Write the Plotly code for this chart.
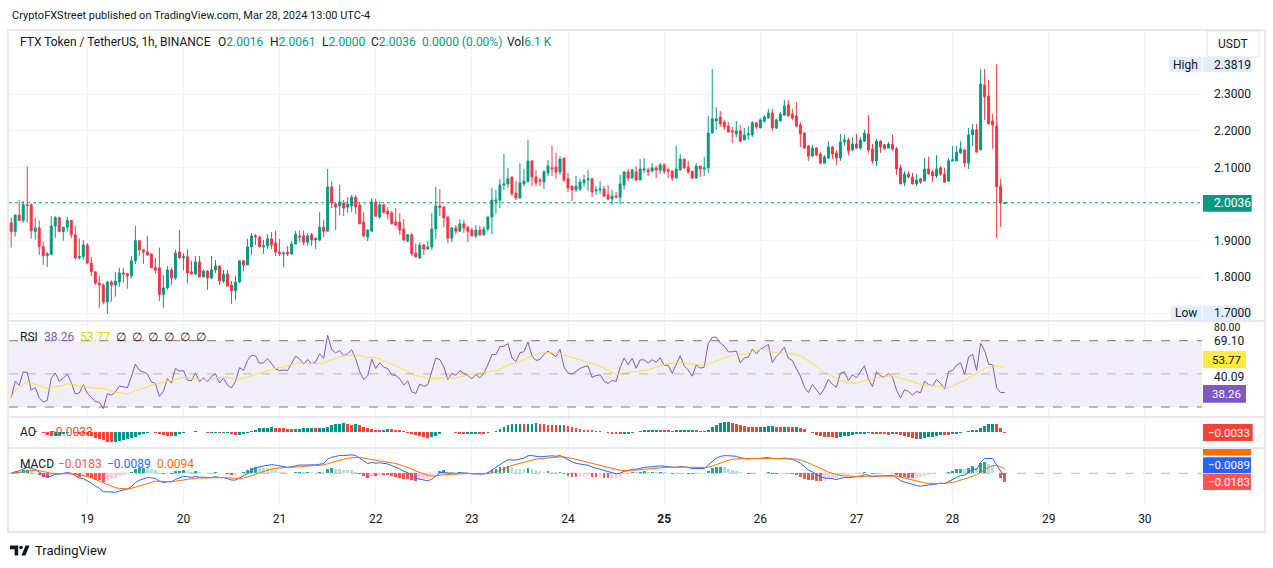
import numpy as np
import pandas as pd
import plotly.graph_objects as go

W, H = 1273, 568
FONT = "Roboto"
TXT = "#131722"
UP, DOWN = "#089981", "#F23645"
GRID = "#F0F3FA"

# ---------------- data (FTT/USDT 1h) ----------------
start_time = "2024-03-18 05:00"
opens = [
    1.949,1.925,1.970,1.955,1.998,1.998,1.925,1.935,1.884,1.859,
    1.862,1.940,1.963,1.925,1.937,1.955,1.916,1.853,1.857,1.888,
    1.839,1.815,1.784,1.779,1.733,1.787,1.779,1.787,1.812,1.810,
    1.804,1.845,1.900,1.875,1.869,1.864,1.826,1.826,1.753,1.771,
    1.820,1.798,1.869,1.853,1.856,1.815,1.809,1.842,1.801,1.817,
    1.798,1.820,1.831,1.790,1.809,1.779,1.763,1.787,1.845,1.834,
    1.883,1.913,1.910,1.883,1.886,1.905,1.894,1.869,1.864,1.869,
    1.864,1.891,1.913,1.913,1.896,1.916,1.902,1.902,1.937,1.926,
    2.047,2.000,1.995,2.003,1.992,1.995,2.019,1.997,1.951,1.910,
    1.926,2.006,1.965,1.998,1.981,1.976,1.951,1.951,1.932,1.899,
    1.916,1.866,1.853,1.888,1.877,1.883,1.932,1.995,1.992,1.965,
    1.907,1.935,1.926,1.946,1.937,1.929,1.913,1.929,1.916,1.932,
    1.965,2.008,2.011,2.052,2.055,2.074,2.030,2.017,2.055,2.061,
    2.118,2.074,2.066,2.061,2.085,2.099,2.101,2.088,2.126,2.069,
    2.049,2.039,2.041,2.058,2.066,2.069,2.036,2.039,2.041,2.025,
    2.014,2.022,2.019,2.052,2.088,2.071,2.088,2.066,2.093,2.093,
    2.090,2.099,2.093,2.107,2.093,2.090,2.071,2.093,2.123,2.101,
    2.090,2.071,2.104,2.096,2.099,2.194,2.227,2.238,2.224,2.213,
    2.200,2.192,2.200,2.175,2.189,2.189,2.222,2.208,2.227,2.235,
    2.249,2.208,2.227,2.243,2.271,2.246,2.241,2.216,2.194,2.159,
    2.131,2.153,2.137,2.112,2.126,2.156,2.140,2.126,2.170,2.175,
    2.148,2.164,2.153,2.172,2.192,2.151,2.118,2.172,2.162,2.153,
    2.164,2.151,2.099,2.058,2.082,2.074,2.055,2.069,2.063,2.096,
    2.088,2.077,2.099,2.082,2.063,2.118,2.118,2.140,2.148,2.112,
    2.189,2.203,2.148,2.325,2.295,2.227,2.213,2.049,2.0016,
]
highs = [
    1.963,1.970,2.011,2.008,2.104,2.002,1.963,1.955,1.897,1.869,
    1.967,1.967,1.963,1.937,1.965,1.955,1.940,1.906,1.902,1.893,
    1.856,1.815,1.803,1.784,1.790,1.792,1.815,1.826,1.826,1.812,
    1.858,1.940,1.900,1.877,1.913,1.864,1.853,1.881,1.806,1.831,
    1.826,1.875,1.929,1.866,1.877,1.845,1.858,1.858,1.820,1.820,
    1.858,1.847,1.831,1.820,1.820,1.790,1.804,1.847,1.847,1.905,
    1.921,1.918,1.913,1.902,1.918,1.924,1.927,1.905,1.872,1.886,
    1.899,1.927,1.929,1.927,1.921,1.921,1.907,1.978,1.957,2.096,
    2.063,2.003,2.052,2.011,2.019,2.025,2.025,2.006,1.978,1.932,
    2.017,2.014,2.008,1.998,1.992,1.981,1.989,1.976,1.959,1.918,
    1.921,1.891,1.896,1.891,1.899,1.976,2.047,2.041,1.995,1.965,
    1.937,1.943,1.959,1.957,1.940,1.935,1.943,1.940,1.940,1.965,
    2.044,2.039,2.069,2.137,2.099,2.074,2.063,2.112,2.096,2.175,
    2.121,2.093,2.071,2.093,2.121,2.159,2.140,2.131,2.126,2.085,
    2.052,2.077,2.069,2.080,2.093,2.071,2.049,2.063,2.049,2.052,
    2.039,2.033,2.080,2.088,2.096,2.096,2.104,2.123,2.126,2.099,
    2.112,2.104,2.112,2.112,2.099,2.093,2.159,2.137,2.123,2.118,
    2.090,2.112,2.104,2.129,2.241,2.369,2.265,2.254,2.230,2.224,
    2.211,2.227,2.216,2.208,2.213,2.227,2.224,2.235,2.243,2.260,
    2.260,2.233,2.252,2.284,2.284,2.260,2.279,2.224,2.197,2.162,
    2.162,2.156,2.142,2.134,2.172,2.159,2.148,2.192,2.189,2.181,
    2.183,2.192,2.183,2.203,2.243,2.164,2.178,2.175,2.164,2.170,
    2.189,2.156,2.107,2.090,2.090,2.085,2.082,2.071,2.126,2.129,
    2.093,2.134,2.104,2.099,2.126,2.159,2.159,2.172,2.151,2.208,
    2.219,2.219,2.369,2.369,2.339,2.246,2.3819,2.069,2.0061,
]
lows = [
    1.881,1.911,1.955,1.949,1.949,1.906,1.903,1.861,1.834,1.828,
    1.862,1.908,1.923,1.900,1.925,1.907,1.849,1.848,1.848,1.837,
    1.803,1.779,1.717,1.726,1.700,1.733,1.747,1.774,1.784,1.769,
    1.797,1.836,1.859,1.836,1.859,1.826,1.811,1.735,1.717,1.766,
    1.779,1.793,1.850,1.820,1.784,1.809,1.806,1.801,1.801,1.766,
    1.795,1.812,1.779,1.784,1.776,1.728,1.739,1.784,1.817,1.834,
    1.861,1.888,1.883,1.864,1.877,1.877,1.858,1.858,1.828,1.858,
    1.861,1.891,1.896,1.888,1.886,1.886,1.877,1.899,1.910,1.926,
    1.989,1.929,1.970,1.967,1.976,1.978,1.973,1.946,1.910,1.899,
    1.926,1.965,1.959,1.973,1.959,1.946,1.940,1.916,1.899,1.896,
    1.858,1.853,1.850,1.861,1.877,1.875,1.905,1.967,1.937,1.894,
    1.896,1.918,1.924,1.921,1.896,1.913,1.907,1.913,1.914,1.926,
    1.918,1.973,1.989,2.039,2.044,2.022,2.011,2.014,2.049,2.061,
    2.049,2.049,2.049,2.041,2.077,2.077,2.069,2.080,2.060,2.033,
    2.008,2.033,2.036,2.047,2.036,2.019,2.025,2.028,2.019,2.011,
    1.998,2.017,2.000,2.039,2.063,2.071,2.063,2.066,2.085,2.077,
    2.088,2.071,2.082,2.082,2.071,2.063,2.071,2.093,2.096,2.082,
    2.069,2.071,2.074,2.077,2.085,2.194,2.203,2.211,2.203,2.197,
    2.167,2.183,2.170,2.175,2.175,2.183,2.205,2.208,2.222,2.235,
    2.200,2.205,2.227,2.243,2.241,2.230,2.211,2.156,2.151,2.118,
    2.129,2.131,2.110,2.112,2.123,2.123,2.107,2.118,2.159,2.134,
    2.145,2.151,2.148,2.170,2.140,2.110,2.104,2.140,2.151,2.153,
    2.145,2.080,2.055,2.049,2.071,2.055,2.049,2.055,2.063,2.082,
    2.060,2.071,2.077,2.060,2.060,2.118,2.118,2.137,2.101,2.096,
    2.159,2.142,2.148,2.230,2.219,2.151,1.907,1.937,2.0000,
]
closes = [
    1.925,1.970,1.955,1.998,1.996,1.927,1.935,1.884,1.859,1.864,
    1.940,1.963,1.925,1.937,1.955,1.916,1.853,1.857,1.888,1.839,
    1.815,1.784,1.779,1.733,1.787,1.779,1.790,1.812,1.809,1.804,
    1.845,1.900,1.875,1.869,1.861,1.826,1.820,1.753,1.771,1.820,
    1.798,1.866,1.853,1.856,1.812,1.809,1.842,1.801,1.817,1.798,
    1.820,1.831,1.790,1.809,1.776,1.763,1.787,1.845,1.834,1.883,
    1.913,1.910,1.883,1.886,1.905,1.888,1.869,1.864,1.866,1.864,
    1.891,1.918,1.910,1.896,1.913,1.902,1.907,1.937,1.926,2.047,
    2.003,1.992,2.006,1.989,2.000,2.019,1.992,1.946,1.913,1.929,
    2.006,1.967,1.998,1.978,1.973,1.946,1.943,1.929,1.902,1.916,
    1.864,1.856,1.888,1.877,1.883,1.932,1.995,1.990,1.962,1.907,
    1.935,1.926,1.946,1.935,1.926,1.913,1.929,1.916,1.932,1.965,
    2.011,2.011,2.052,2.055,2.069,2.028,2.017,2.058,2.063,2.118,
    2.074,2.058,2.063,2.088,2.104,2.096,2.088,2.123,2.066,2.044,
    2.039,2.049,2.060,2.066,2.069,2.033,2.039,2.041,2.022,2.014,
    2.022,2.019,2.055,2.088,2.071,2.093,2.066,2.096,2.096,2.088,
    2.099,2.093,2.107,2.090,2.090,2.071,2.096,2.123,2.099,2.088,
    2.071,2.104,2.096,2.099,2.194,2.233,2.233,2.219,2.211,2.197,
    2.197,2.200,2.172,2.189,2.192,2.222,2.211,2.230,2.238,2.249,
    2.208,2.230,2.246,2.268,2.241,2.235,2.213,2.192,2.153,2.131,
    2.153,2.134,2.112,2.129,2.156,2.137,2.126,2.170,2.175,2.145,
    2.164,2.153,2.175,2.194,2.148,2.118,2.172,2.156,2.151,2.164,
    2.151,2.096,2.055,2.082,2.074,2.055,2.066,2.060,2.096,2.082,
    2.077,2.096,2.082,2.060,2.118,2.121,2.142,2.151,2.112,2.189,
    2.203,2.142,2.328,2.293,2.219,2.216,2.047,2.003,2.0036,
]
times = pd.date_range(start_time, periods=len(closes), freq="h")

price_ticks = [2.3, 2.2, 2.1, 2.0, 1.9, 1.8, 1.7]
price_tick_labels = {2.3: "2.3000", 2.2: "2.2000", 2.1: "2.1000",
                     1.9: "1.9000", 1.8: "1.8000"}
day_ticks = ["2024-03-19", "2024-03-20", "2024-03-21", "2024-03-22",
             "2024-03-23", "2024-03-24", "2024-03-25", "2024-03-26",
             "2024-03-27", "2024-03-28", "2024-03-29", "2024-03-30"]
day_labels = ["19", "20", "21", "22", "23", "24", "<b>25</b>", "26",
              "27", "28", "29", "30"]

last_price = 2.0036
high_label, low_label = "2.3819", "1.7000"
rsi_now, rsi_ma_now = "38.26", "53.77"
rsi_scale_labels = ["80.00", "69.10", "40.09"]
ao_now = "−0.0033"
macd_hist_now, macd_now, signal_now = "−0.0183", "−0.0089", "0.0094"

# indicator prior state (history before the first visible bar)
RSI_SEED_GAIN, RSI_SEED_LOSS = 0.007, 0.011

# ---------------- indicators ----------------
o = np.array(opens); h = np.array(highs); l = np.array(lows); c = np.array(closes)
prev = np.r_[o[0], c[:-1]]
chg = c - prev
ag, al = RSI_SEED_GAIN, RSI_SEED_LOSS
rsi = []
for g, ls in zip(np.clip(chg, 0, None), np.clip(-chg, 0, None)):
    ag = (ag * 13 + g) / 14
    al = (al * 13 + ls) / 14
    rsi.append(100 - 100 / (1 + ag / al))
rsi = pd.Series(rsi)
rsi_ma = rsi.rolling(14, min_periods=1).mean()

med = pd.Series((h + l) / 2)
ao = med.rolling(5, min_periods=1).mean() - med.rolling(34, min_periods=1).mean()
ao_colors = ["#F44336"] + ["#009688" if ao[i] >= ao[i - 1] else "#F44336"
                           for i in range(1, len(ao))]

cs = pd.Series(c)
macd = cs.ewm(span=12, adjust=False).mean() - cs.ewm(span=26, adjust=False).mean()
signal = macd.ewm(span=9, adjust=False).mean()
hist = macd - signal
hist_colors = []
for i in range(len(hist)):
    p = hist[i - 1] if i else hist[i]
    if hist[i] >= 0:
        hist_colors.append("#26A69A" if hist[i] >= p else "#B2DFDB")
    else:
        hist_colors.append("#FFCDD2" if hist[i] > p else "#FF5252")

# ---------------- geometry (pixels -> paper) ----------------
def fx(x): return x / W
def fy(y): return 1 - y / H

X0, X1 = 9, 1202
T0 = pd.Timestamp("2024-03-19"); T0_X = 87.3; PX_H = 4.006
x_start = T0 - pd.Timedelta(hours=(T0_X - X0) / PX_H)
x_end = T0 + pd.Timedelta(hours=(X1 - T0_X) / PX_H)

MAIN = (30, 321); RSIP = (321, 417); AOP = (417, 448); MACDP = (448, 505)
P_Y, P_PX = 94.3, 366.0   # 2.3 at y=94.3, 366 px per unit
price_range = [2.3 - (MAIN[1] - P_Y) / P_PX, 2.3 + (P_Y - MAIN[0]) / P_PX]
R70, R30 = 340.7, 407.0
rpx = (R30 - R70) / 40
rsi_range = [30 - (RSIP[1] - R30) / rpx, 70 + (R70 - RSIP[0]) / rpx]
AO0 = 432.3
s_ao = max(ao.max() / 10.7, -ao.min() / 13.0)
ao_range = [-(AOP[1] - AO0) * s_ao, (AO0 - AOP[0]) * s_ao]
M0 = 473.3
s_m = max(max(macd.max(), signal.max()) / 18.5, -min(macd.min(), signal.min()) / 24.0)
macd_range = [-(MACDP[1] - M0) * s_m, (M0 - MACDP[0]) * s_m]

# ---------------- traces ----------------
fig = go.Figure()
fig.add_trace(go.Candlestick(
    x=times, open=opens, high=highs, low=lows, close=closes,
    increasing=dict(line=dict(color=UP, width=1), fillcolor=UP),
    decreasing=dict(line=dict(color=DOWN, width=1), fillcolor=DOWN),
    whiskerwidth=0, xaxis="x", yaxis="y", hoverinfo="skip"))
fig.add_trace(go.Scatter(x=times, y=rsi, mode="lines", line=dict(color="#7E57C2", width=1),
                         xaxis="x", yaxis="y2", hoverinfo="skip"))
fig.add_trace(go.Scatter(x=times, y=rsi_ma, mode="lines", line=dict(color="#F5E33A", width=1),
                         xaxis="x", yaxis="y2", hoverinfo="skip"))
bw = 0.7 * 3600 * 1000
fig.add_trace(go.Bar(x=times, y=ao, marker=dict(color=ao_colors, line=dict(width=0)),
                     width=bw, xaxis="x", yaxis="y3", hoverinfo="skip"))
fig.add_trace(go.Bar(x=times, y=hist, marker=dict(color=hist_colors, line=dict(width=0)),
                     width=bw, xaxis="x", yaxis="y4", hoverinfo="skip"))
fig.add_trace(go.Scatter(x=times, y=macd, mode="lines", line=dict(color="#2962FF", width=1),
                         xaxis="x", yaxis="y4", hoverinfo="skip"))
fig.add_trace(go.Scatter(x=times, y=signal, mode="lines", line=dict(color="#FF6D00", width=1),
                         xaxis="x", yaxis="y4", hoverinfo="skip"))

# ---------------- shapes ----------------
shapes = []
def hline(yref, y, color, dash="solid", width=1, x0=X0, x1=X1, layer="above"):
    shapes.append(dict(type="line", xref="paper", yref=yref, x0=fx(x0), x1=fx(x1),
                       y0=y, y1=y, line=dict(color=color, width=width, dash=dash), layer=layer))
def prect(x0, y0, x1, y1, fill, line=None, lw=0):
    shapes.append(dict(type="rect", xref="paper", yref="paper", x0=fx(x0), x1=fx(x1),
                       y0=fy(y1), y1=fy(y0), fillcolor=fill,
                       line=dict(color=line or fill, width=lw), layer="above"))

shapes.append(dict(type="rect", xref="paper", yref="y2", x0=fx(X0), x1=fx(X1), y0=30, y1=70,
                   fillcolor="rgba(126,87,194,0.1)", line=dict(width=0), layer="below"))
hline("y2", 70, "#787B86", "dash")
hline("y2", 30, "#787B86", "dash")
hline("y2", 50, "rgba(120,123,134,0.5)", "dash")
hline("y4", 0, "rgba(120,123,134,0.5)", "dash", layer="below")
hline("y", last_price, UP, "dot")

# frame and pane separators
shapes.append(dict(type="rect", xref="paper", yref="paper", x0=fx(8), x1=fx(1265),
                   y0=fy(532), y1=fy(30), line=dict(color="#E6E8EE", width=2),
                   fillcolor="rgba(0,0,0,0)", layer="above"))
for ys in (MAIN[1], RSIP[1], AOP[1]):
    shapes.append(dict(type="line", xref="paper", yref="paper", x0=fx(9), x1=fx(1264),
                       y0=fy(ys), y1=fy(ys), line=dict(color="#E0E3EB", width=1.5), layer="above"))

# price scale tags
LB = "#E1ECFD"
prect(1169.3, 56.7, 1201.7, 72.3, LB); prect(1203, 56.7, 1251.7, 72.3, LB)
prect(1171, 305.7, 1201.7, 320.3, LB); prect(1203, 305.7, 1251.7, 320.3, LB)
prect(1203, 195, 1251.7, 211.7, UP)
prect(1203, 351, 1246, 368.3, "#FFEB3B")
prect(1203, 385, 1246, 402.7, "#7E57C2")
prect(1203, 424, 1252.7, 441, "#F44336")
prect(1203, 449, 1251, 455.5, "#FF6D00")
prect(1203, 457.3, 1251, 473.3, "#2962FF")
prect(1203, 474, 1251, 490, "#FF5252")

# USDT button
shapes.append(dict(type="rect", xref="paper", yref="paper", x0=fx(1207), x1=fx(1259),
                   y0=fy(57), y1=fy(31), line=dict(color="#E0E3EB", width=1),
                   fillcolor="white", layer="above"))

# TradingView logo glyph
def path(pts):
    return "M " + " L ".join(f"{fx(x)},{fy(y)}" for x, y in pts) + " Z"
LOGO = "#131722"
shapes.append(dict(type="path", xref="paper", yref="paper",
                   path=path([(10, 545.5), (18.2, 545.5), (18.2, 555.5), (14.6, 555.5),
                              (14.6, 549.2), (10, 549.2)]),
                   fillcolor=LOGO, line=dict(width=0), layer="above"))
shapes.append(dict(type="circle", xref="paper", yref="paper", x0=fx(19.2), x1=fx(22.8),
                   y0=fy(549.3), y1=fy(545.7), fillcolor=LOGO, line=dict(width=0), layer="above"))
shapes.append(dict(type="path", xref="paper", yref="paper",
                   path=path([(25.6, 545.5), (29.6, 545.5), (25.4, 555.5), (21.4, 555.5)]),
                   fillcolor=LOGO, line=dict(width=0), layer="above"))

# ---------------- annotations ----------------
anns = []
def text(t, x, y, size=12, color=TXT, xanchor="left"):
    anns.append(dict(text=t, x=fx(x), y=fy(y), xref="paper", yref="paper",
                     xanchor=xanchor, yanchor="middle", showarrow=False,
                     font=dict(family=FONT, size=size, color=color)))

G = UP
def sp(t, col): return f"<span style='color:{col}'>{t}</span>"
text("CryptoFXStreet published on TradingView.com, Mar 28, 2024 13:00 UTC-4", 10, 15, 11)
text("FTX Token / TetherUS, 1h, BINANCE", 18, 42)
text("O" + sp("2.0016", G), 216, 42)
text("H" + sp("2.0061", G), 268, 42)
text("L" + sp("2.0000", G), 320, 42)
text("C" + sp("2.0036", G), 369, 42)
text(sp("0.0000 (0.00%)", G), 420, 42)
text("Vol" + sp("6.1 K", G), 505, 42)
text("USDT", 1233, 44, 12, xanchor="center")

for v in price_ticks:
    if v in price_tick_labels:
        anns.append(dict(text=price_tick_labels[v], x=fx(1211.5), y=v, xref="paper", yref="y",
                         xanchor="left", yanchor="middle", showarrow=False,
                         font=dict(family=FONT, size=12, color=TXT)))
text("High", 1185.5, 64.5, 12, xanchor="center")
text(high_label, 1211.5, 64.5)
text("Low", 1186.3, 313.0, 12, xanchor="center")
text(low_label, 1211.5, 313.0)
text(f"{last_price:.4f}", 1211.5, 203.4, 12, "white")

# RSI scale labels (pixel rows as drawn on the reference scale)
for lab, yy, sz in zip(rsi_scale_labels, [327.5, 341.5, 376.5], [10.5, 12, 12]):
    text(lab, 1211.5, yy, sz)
text(rsi_ma_now, 1210, 359.7, 11.5, TXT)
text(rsi_now, 1210, 393.9, 11.5, "white")
text(ao_now, 1206, 432.5, 11.5, "white")
text(macd_now, 1206, 465.3, 11.5, "white")
text(macd_hist_now, 1206, 482, 11.5, "white")

# pane legends
text("RSI", 18, 336.5)
text(rsi_now, 42, 336.5, 12, "#7E57C2")
text(rsi_ma_now, 78, 336.5, 12, "#E5CF00")
text("∅  ∅  ∅  ∅  ∅  ∅", 114, 336.5, 12)
text("AO", 18, 432.3)
text(ao_now, 47, 432.3, 12, "#F44336")
text("MACD", 18, 463.5)
text(macd_hist_now, 56, 463.5, 12, "#FF5252")
text(macd_now, 105, 463.5, 12, "#2962FF")
text(signal_now, 155, 463.5, 12, "#FF6D00")

text("TradingView", 33, 550.5, 13)

# ---------------- layout ----------------
def yax(dom, rng, **kw):
    d = dict(domain=[fy(dom[1]), fy(dom[0])], range=rng, anchor="x", side="right",
             showticklabels=False, ticks="", zeroline=False, showline=False,
             fixedrange=True)
    d.update(kw)
    return d

fig.update_layout(
    width=W, height=H, margin=dict(l=0, r=0, t=0, b=0),
    paper_bgcolor="white", plot_bgcolor="white", showlegend=False,
    hovermode=False, bargap=0,
    xaxis=dict(domain=[fx(X0), fx(X1)], range=[x_start, x_end], type="date",
               anchor="y4", tickmode="array", tickvals=day_ticks, ticktext=day_labels,
               showgrid=True, gridcolor=GRID, gridwidth=1, zeroline=False,
               showline=False, ticks="", ticklabelstandoff=5,
               tickfont=dict(family=FONT, size=12, color=TXT),
               rangeslider=dict(visible=False), fixedrange=True),
    yaxis=yax(MAIN, price_range, tickmode="array", tickvals=price_ticks,
              showgrid=True, gridcolor=GRID),
    yaxis2=yax(RSIP, rsi_range, tickmode="array", tickvals=[40, 60, 80],
               showgrid=True, gridcolor=GRID),
    yaxis3=yax(AOP, ao_range, showgrid=False),
    yaxis4=yax(MACDP, macd_range, showgrid=False),
    shapes=shapes, annotations=anns,
)

fig.write_html("out.html", config={"displayModeBar": False, "staticPlot": True},
               post_script="document.body.style.margin='0';document.body.style.overflow='hidden';")
